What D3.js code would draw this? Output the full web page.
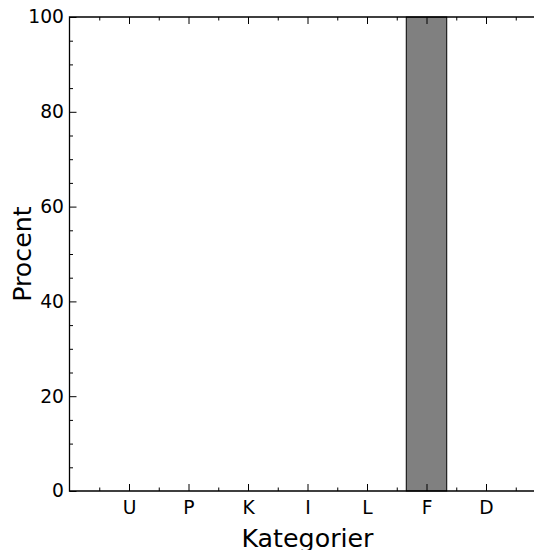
<!DOCTYPE html>
<html>
<head>
<meta charset="utf-8">
<script src="https://cdn.jsdelivr.net/npm/d3@7"></script>
<style>
  body { margin: 0; background: #fff; }
  svg { font-family: "DejaVu Sans", sans-serif; }
</style>
</head>
<body>
<script>
// data
const categories = ["U", "P", "K", "I", "L", "F", "D"];
const values = [0, 0, 0, 0, 0, 100, 0];
const yTicks = [0, 20, 40, 60, 80, 100];
const yMinor = d3.range(0, 101, 5);

let svg = d3.select("body")
            .append("svg")
            .attr("width", 534)
            .attr("height", 550);

let x = d3.scaleLinear().domain([-1, 7]).range([69.5, 545.5]);
let y = d3.scaleLinear().domain([0, 100]).range([491, 17]);

let xMinor = d3.range(-0.5, 7, 1);
let xIdx = categories.map((c, i) => i);

// bars
svg.append("g")
    .selectAll("rect")
    .data(values)
    .join("rect")
    .attr("x", (d, i) => x(i - 0.34))
    .attr("width", x(0.68) - x(0))
    .attr("y", d => y(d))
    .attr("height", d => y(0) - y(d))
    .attr("fill", "#808080")
    .attr("stroke", "#000")
    .attr("stroke-width", 1);

let axis = (gen, tx, ty) => {
    let g = svg.append("g").attr("transform", `translate(${tx},${ty})`).call(gen);
    g.select(".domain").remove();
    g.selectAll("line").attr("stroke", "#000").attr("stroke-width", 1);
    g.selectAll("text").attr("fill", "#000").attr("font-size", "18.7px").attr("font-family", "DejaVu Sans");
    return g;
};

// bottom axis
axis(d3.axisBottom(x).tickValues(xIdx).tickFormat(i => categories[i])
        .tickSizeInner(-7).tickSizeOuter(0).tickPadding(10), 0, y(0));
axis(d3.axisBottom(x).tickValues(xMinor).tickFormat("")
        .tickSizeInner(-3.5).tickSizeOuter(0), 0, y(0));
// top axis
axis(d3.axisTop(x).tickValues(xIdx).tickFormat("")
        .tickSizeInner(-7).tickSizeOuter(0), 0, y(100));
axis(d3.axisTop(x).tickValues(xMinor).tickFormat("")
        .tickSizeInner(-3.5).tickSizeOuter(0), 0, y(100));
// left axis
axis(d3.axisLeft(y).tickValues(yTicks).tickFormat(d3.format("d"))
        .tickSizeInner(-7).tickSizeOuter(0).tickPadding(5.5), x(-1), 0);
axis(d3.axisLeft(y).tickValues(yMinor.filter(v => v % 20)).tickFormat("")
        .tickSizeInner(-3.5).tickSizeOuter(0), x(-1), 0);

// spines
svg.append("path")
    .attr("d", `M${x(7)},${y(100)}H${x(-1)}V${y(0)}H${x(7)}V${y(100)}`)
    .attr("fill", "none")
    .attr("stroke", "#000")
    .attr("stroke-width", 1.3);

// axis labels
svg.append("text")
    .attr("x", (x(-1) + x(7)) / 2)
    .attr("y", 547)
    .attr("text-anchor", "middle")
    .attr("font-size", "25.3px")
    .text("Kategorier");

svg.append("text")
    .attr("transform", `translate(31,${(y(0) + y(100)) / 2}) rotate(-90)`)
    .attr("text-anchor", "middle")
    .attr("font-size", "25.3px")
    .text("Procent");
</script>
</body>
</html>
